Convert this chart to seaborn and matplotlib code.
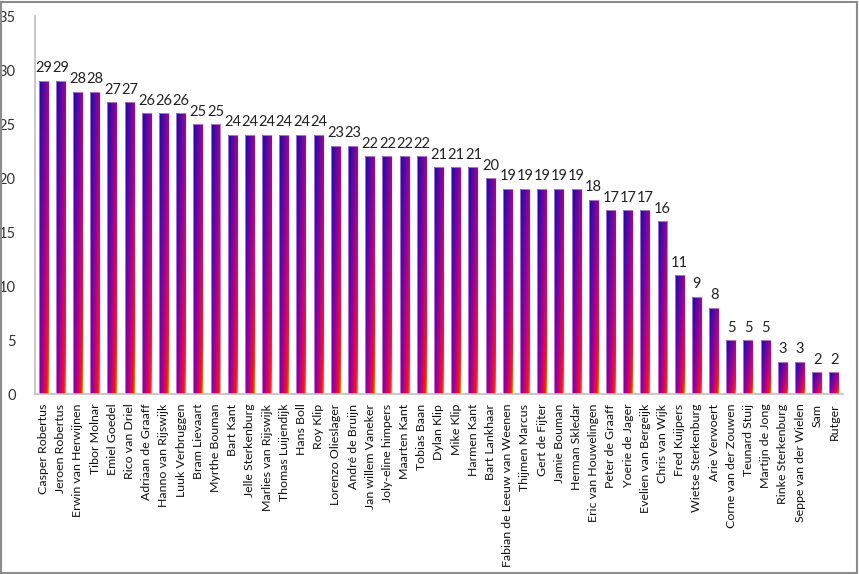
import numpy as np
import pandas as pd
import matplotlib
matplotlib.use('Agg')
import matplotlib.pyplot as plt
from matplotlib.colors import LinearSegmentedColormap
from matplotlib.patches import Rectangle
import seaborn as sns

# -------------------------------------------------------------------
# Data
# -------------------------------------------------------------------
names = [
    'Casper Robertus', 'Jeroen Robertus', 'Erwin van Herwijnen', 'Tibor Molnar',
    'Emiel Goedel', 'Rico van Driel', 'Adriaan de Graaff', 'Hanno van Rijswijk',
    'Luuk Verbruggen', 'Bram Lievaart', 'Myrthe Bouman', 'Bart Kant',
    'Jelle Sterkenburg', 'Marlies van Rijswijk', 'Thomas Luijendijk', 'Hans Boll',
    'Roy Klip', 'Lorenzo Olieslager', 'André de Bruijn', 'Jan willem Vaneker',
    'Joly-eline himpers', 'Maarten Kant', 'Tobias Baan', 'Dylan Klip',
    'Mike Klip', 'Harmen Kant', 'Bart Lankhaar', 'Fabian de Leeuw van Weenen',
    'Thijmen Marcus', 'Gert de Fijter', 'Jamie Bouman', 'Herman Skledar',
    'Eric van Houwelingen', 'Peter de Graaff', 'Yoerie de Jager', 'Evelien van Bergeijk',
    'Chris van Wijk', 'Fred Kuijpers', 'Wietse Sterkenburg', 'Arie Verwoert',
    'Corne van der Zouwen', 'Teunard Stuij', 'Martijn de Jong', 'Rinke Sterkenburg',
    'Seppe van der Wielen', 'Sam', 'Rutger',
]
scores = [
    29, 29, 28, 28, 27, 27, 26, 26, 26, 25, 25, 24, 24, 24, 24, 24, 24,
    23, 23, 22, 22, 22, 22, 21, 21, 21, 20, 19, 19, 19, 19, 19, 18,
    17, 17, 17, 16, 11, 9, 8, 5, 5, 5, 3, 3, 2, 2,
]
y_ticks = [0, 5, 10, 15, 20, 25, 30, 35]

df = pd.DataFrame({'name': names, 'score': scores})

# -------------------------------------------------------------------
# Plot
# -------------------------------------------------------------------
sns.set_style('white')
plt.rcParams['font.family'] = ['Lato', 'DejaVu Sans']

fire = LinearSegmentedColormap.from_list('fire', [
    (0.00, '#180c8c'),
    (0.20, '#3c0ca8'),
    (0.40, '#6c08a2'),
    (0.60, '#a6048c'),
    (0.75, '#d8086a'),
    (0.88, '#ff1020'),
    (0.96, '#ff6000'),
    (1.00, '#ffd000'),
])

fig = plt.figure(figsize=(8.59, 5.74), dpi=100)
ax = fig.add_axes([35 / 859, 1 - 394 / 574, (843 - 35) / 859, (394 - 16) / 574])

sns.barplot(data=df, x='name', y='score', ax=ax, width=0.58,
            color='#8a0a8a', order=names)

# gradient for every bar: dark blue top-left -> yellow bottom-right
gx, gy = np.meshgrid(np.linspace(0, 1, 40), np.linspace(0, 1, 200))
grad = 0.6 * gx + 0.4 * gy  # row 0 = top in imshow (origin upper)
for p in ax.patches:
    x0, y0 = p.get_x(), p.get_y()
    w, h = p.get_width(), p.get_height()
    im = ax.imshow(grad, cmap=fire, vmin=0, vmax=1, aspect='auto',
                   extent=(x0, x0 + w, y0, y0 + h), interpolation='bilinear',
                   zorder=2)
    im.set_clip_path(p)
    p.set_facecolor('none')
    p.set_edgecolor('#f0c8ec')
    p.set_linewidth(0.4)
    p.set_zorder(3)
    ax.text(x0 + w / 2, h + 0.5, f'{int(h)}', ha='center', va='bottom',
            fontsize=10.5, color='#222222')

ax.set_xlim(-0.5, len(names) - 0.5)
ax.set_ylim(0, 35)
ax.set_yticks(y_ticks)
ax.set_yticklabels([str(t) for t in y_ticks], fontsize=10.5, color='#333333')
ax.set_xticks(range(len(names)))
ax.set_xticklabels(names, rotation=90, fontsize=8.9, color='#111111')
ax.set_xlabel('')
ax.set_ylabel('')
ax.tick_params(axis='x', length=0, pad=7)
ax.tick_params(axis='y', length=0, pad=14)

for side in ['top', 'right']:
    ax.spines[side].set_visible(False)
for side in ['left', 'bottom']:
    ax.spines[side].set_color('#bfbfbf')
    ax.spines[side].set_linewidth(1.2)

# outer chart border
fig.patches.append(Rectangle((0.001, 0.002), 0.997, 0.995, transform=fig.transFigure,
                             fill=False, edgecolor='#8c8c8c', linewidth=1.5))

fig.savefig('out.png', dpi=100)
